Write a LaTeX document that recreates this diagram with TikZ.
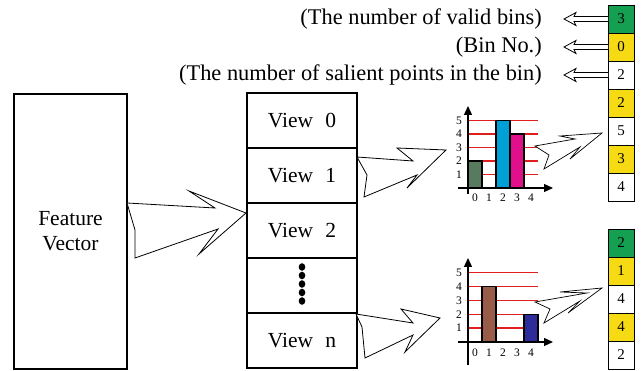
\documentclass[tikz,border=0pt]{standalone}
\usepackage{fontspec}
\setmainfont{Liberation Serif}
\usetikzlibrary{arrows.meta}
\definecolor{cgreen}{RGB}{20,160,80}
\definecolor{cyellow}{RGB}{246,218,20}
\definecolor{redline}{RGB}{225,30,30}
\definecolor{barg}{RGB}{88,122,94}
\definecolor{barb}{RGB}{0,160,215}
\definecolor{barm}{RGB}{224,16,138}
\definecolor{barbr}{RGB}{152,92,72}
\definecolor{barn}{RGB}{46,44,152}
\begin{document}
\begin{tikzpicture}[x=1pt,y=-1pt,
  bigfont/.style={font=\fontsize{21.5}{25}\selectfont},
  box/.style={draw, line width=1.2pt, inner sep=0pt, outer sep=0pt},
  viewcell/.style={box, minimum width=110pt, minimum height=55pt, bigfont},
  cell/.style={draw, line width=0.9pt, inner sep=0pt, outer sep=0pt, minimum width=26pt, minimum height=28pt, font=\fontsize{15}{15}\selectfont},
  fat/.style={draw, line width=0.8pt, line join=miter, fill=white},
  rl/.style={draw=redline, line width=1.3pt},
  bar/.style={draw=black, line width=1.3pt},
  axis/.style={line width=1.3pt, -{Triangle[length=9pt,width=8pt]}},
  tick/.style={font=\fontsize{11.5}{11.5}\selectfont, inner sep=0pt},
  lbl/.style={font=\fontsize{22.4}{25}\selectfont, anchor=east, inner sep=0pt},
  hollow/.style={draw, line width=0.8pt, line join=miter, fill=white}]
\useasboundingbox (0,0) rectangle (641,371);

% Feature vector
\node[box, minimum width=113pt, minimum height=275pt] (fv) at (70.5,231.5) {};
\node[bigfont, align=center] (fvt) at (fv.center) {Feature\\Vector};

% Views
\node[viewcell] (v0) at (302,120.5) {View\hspace{12pt}0};
\node[viewcell] (v1) at (302,175.5) {View\hspace{12pt}1};
\node[viewcell] (v2) at (302,230.5) {View\hspace{12pt}2};
\node[viewcell] (vd) at (302,285.5) {};
\node[viewcell] (vn) at (302,340.5) {View\hspace{12pt}n};
\foreach \i in {0,...,4} {
  \fill (302,{267+8.5*\i}) ellipse (3.3pt and 3.8pt);
}

% big arrow feature -> views
\draw[fat] (127,203) -- (215,208) -- (189,191) -- (246,213) -- (199,254) -- (218,229) -- (135,258) -- (135,230) -- cycle;
% view1 -> chart 1
\draw[fat] (357,157) -- (413,161) -- (397,148) -- (446,150) -- (407,188) -- (417,175) -- (364,197) -- (367,175) -- cycle;
% view n -> chart 2
\draw[fat] (356,314) -- (413,323) -- (401,309) -- (440,318) -- (405,352) -- (413,335) -- (365,358) -- (362,327) -- cycle;

% Chart 1
\foreach \k in {1,...,5} {
  \draw[rl] (468,{188-13.5*\k}) -- (538,{188-13.5*\k});
  \node[tick] at (459,{188-13.5*\k}) {\k};
}
\draw[bar, fill=barg] (468,188) rectangle (482,161);
\draw[bar, fill=barb] (496,188) rectangle (510,120.5);
\draw[bar, fill=barm] (510,188) rectangle (524,134);
\draw[axis] (468,194) -- (468,106);
\draw[axis] (458,188) -- (553,188);
\foreach \k in {0,...,4} {
  \node[tick] at ({475+14*\k},198) {\k};
}

% Chart 2
\foreach \k in {1,...,5} {
  \draw[rl] (468,{342-13.9*\k}) -- (538,{342-13.9*\k});
  \node[tick] at (459,{342-13.9*\k}) {\k};
}
\draw[bar, fill=barbr] (482,342) rectangle (496,286.4);
\draw[bar, fill=barn] (524,342) rectangle (538,314.2);
\draw[axis] (468,365) -- (468,258);
\draw[axis] (458,342) -- (553,342);
\foreach \k in {0,...,4} {
  \node[tick] at ({475+14*\k},353) {\k};
}

% small arrows chart -> column
\draw[fat, line width=0.7pt] (535,146) -- (575,139) -- (560,136) -- (602,133) -- (570,159) -- (580,147) -- (544,169) -- (549,155) -- cycle;
\draw[fat, line width=0.7pt] (535,302) -- (587,293) -- (560,292) -- (602,288) -- (568,313) -- (580,301) -- (544,323) -- (550,309) -- cycle;

% Column 1
\node[cell, fill=cgreen] (a0) at (621,19) {3};
\node[cell, fill=cyellow] (a1) at (621,47) {0};
\node[cell] (a2) at (621,75) {2};
\node[cell, fill=cyellow] (a3) at (621,103) {2};
\node[cell] (a4) at (621,131) {5};
\node[cell, fill=cyellow] (a5) at (621,159) {3};
\node[cell] (a6) at (621,187) {4};

% Column 2
\node[cell, fill=cgreen] (b0) at (621,243) {2};
\node[cell, fill=cyellow] (b1) at (621,271) {1};
\node[cell] (b2) at (621,299) {4};
\node[cell, fill=cyellow] (b3) at (621,327) {4};
\node[cell] (b4) at (621,355) {2};

% Labels
\node[lbl] (l0) at (542,19) {(The number of valid bins)};
\node[lbl] (l1) at (542,47) {(Bin No.)};
\node[lbl] (l2) at (542,75) {(The number of salient points in the bin)};
\foreach \c in {a0,a1,a2} {
  \draw[hollow] ([yshift=-2.5pt]\c.west) -- ++(-34,0) -- ++(2,4) -- ++(-12,-6.5)
     -- ++(12,-6.5) -- ++(-2,4) -- ([yshift=2.5pt]\c.west);
}
\end{tikzpicture}
\end{document}
